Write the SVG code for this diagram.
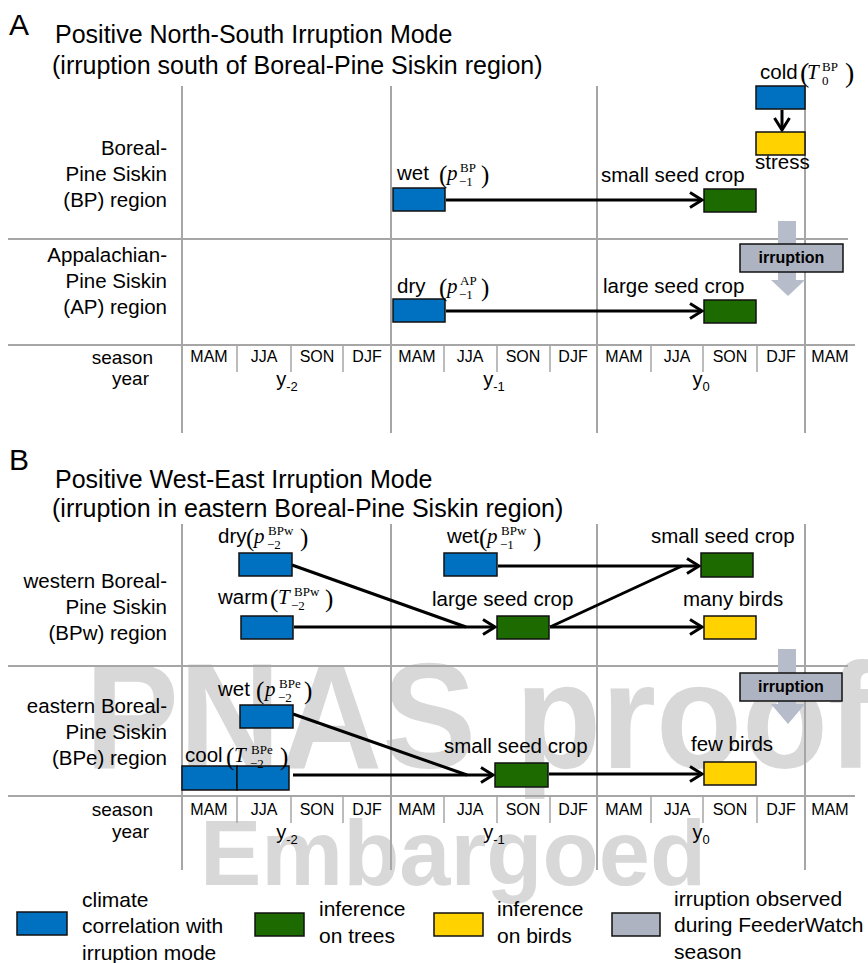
<svg xmlns="http://www.w3.org/2000/svg" width="868" height="963" viewBox="0 0 868 963">
  <style>
    .grid { stroke: #a6a6a6; stroke-width: 2; fill: none; }
    .tick { stroke: #a6a6a6; stroke-width: 1.5; fill: none; }
    .box { stroke: #111; stroke-width: 1.5; }
    .blue { fill: #0070c0; }
    .green { fill: #1d6b00; }
    .yellow { fill: #ffd200; }
    .obs { fill: #aeb3c2; }
    .flow { fill: #b7bccb; }
    .ln { stroke: #000; stroke-width: 3; fill: none; }
    .t { font-family: "Liberation Sans", Arial, sans-serif; font-size: 20.5px; fill: #000; }
    .title { font-size: 25px; }
    .panel { font-size: 30px; }
    .sea { font-size: 16px; text-anchor: middle; }
    .axis { font-size: 19px; text-anchor: end; }
    .yr { font-size: 20px; text-anchor: middle; }
    .reg { text-anchor: end; }
    .leg { font-size: 21px; }
    .bold { font-weight: bold; font-size: 16px; text-anchor: middle; }
    .m { font-family: "Liberation Serif", "Times New Roman", serif; fill: #000; }
    .mi { font-style: italic; font-size: 21px; }
    .ms { font-size: 13px; }
    .mp { font-size: 25px; }
    .mp2 { font-size: 28px; }
    .wm { font-family: "Liberation Sans", Arial, sans-serif; font-weight: bold; fill: #d8d8d8; }
  </style>
  <defs>
    <marker id="chev" markerUnits="userSpaceOnUse" markerWidth="20" markerHeight="20" viewBox="0 0 20 20" refX="17" refY="10" orient="auto">
      <path d="M5,2.5 L17,10 L5,17.5" fill="none" stroke="#000" stroke-width="3"/>
    </marker>
  </defs>

  <rect width="868" height="963" fill="#fff"/>

  <!-- watermark -->
  <g id="watermark">
    <text class="wm" x="85" y="768" font-size="150" textLength="790" lengthAdjust="spacingAndGlyphs">PNAS proof</text>
    <text class="wm" x="200" y="885" font-size="92">Embargoed</text>
  </g>

  <!-- ===== Panel A ===== -->
  <g id="panelA-header">
    <text class="t panel" x="9" y="35">A</text>
    <text class="t title" x="55" y="43">Positive North-South Irruption Mode</text>
    <text class="t title" x="52" y="74">(irruption south of Boreal-Pine Siskin region)</text>
  </g>

  <g id="panelA-grid">
    <line class="grid" x1="182" y1="86" x2="182" y2="433"/>
    <line class="grid" x1="391" y1="86" x2="391" y2="433"/>
    <line class="grid" x1="597" y1="86" x2="597" y2="433"/>
    <line class="grid" x1="805" y1="86" x2="805" y2="433"/>
    <line class="grid" x1="8" y1="239" x2="848" y2="239"/>
    <line class="grid" x1="8" y1="345" x2="855" y2="345"/>
    <line class="tick" x1="237" y1="345" x2="237" y2="372"/>
    <line class="tick" x1="291" y1="345" x2="291" y2="372"/>
    <line class="tick" x1="343" y1="345" x2="343" y2="372"/>
    <line class="tick" x1="444" y1="345" x2="444" y2="372"/>
    <line class="tick" x1="497" y1="345" x2="497" y2="372"/>
    <line class="tick" x1="550" y1="345" x2="550" y2="372"/>
    <line class="tick" x1="651" y1="345" x2="651" y2="372"/>
    <line class="tick" x1="703" y1="345" x2="703" y2="372"/>
    <line class="tick" x1="757" y1="345" x2="757" y2="372"/>
  </g>

  <g id="panelA-regions">
    <text class="t reg" x="167" y="155">Boreal-</text>
    <text class="t reg" x="167" y="181">Pine Siskin</text>
    <text class="t reg" x="167" y="207">(BP) region</text>
    <text class="t reg" x="167" y="262">Appalachian-</text>
    <text class="t reg" x="167" y="288">Pine Siskin</text>
    <text class="t reg" x="167" y="314">(AP) region</text>
  </g>

  <g id="panelA-axis">
    <text class="t axis" x="153" y="364">season</text>
    <text class="t axis" x="149" y="385">year</text>
    <text class="t sea" x="209" y="362">MAM</text>
    <text class="t sea" x="264" y="362">JJA</text>
    <text class="t sea" x="317" y="362">SON</text>
    <text class="t sea" x="367" y="362">DJF</text>
    <text class="t sea" x="417" y="362">MAM</text>
    <text class="t sea" x="470" y="362">JJA</text>
    <text class="t sea" x="523" y="362">SON</text>
    <text class="t sea" x="573" y="362">DJF</text>
    <text class="t sea" x="624" y="362">MAM</text>
    <text class="t sea" x="677" y="362">JJA</text>
    <text class="t sea" x="730" y="362">SON</text>
    <text class="t sea" x="781" y="362">DJF</text>
    <text class="t sea" x="830" y="362">MAM</text>
    <text class="t yr" x="287" y="386">y<tspan font-size="13" dy="5">-2</tspan></text>
    <text class="t yr" x="494" y="386">y<tspan font-size="13" dy="5">-1</tspan></text>
    <text class="t yr" x="701" y="386">y<tspan font-size="13" dy="5">0</tspan></text>
  </g>

  <!-- irruption flow arrow (behind the label box) -->
  <g id="A-irruption">
    <path class="flow" d="M778,221 H796 V280 H805 L788,296 L771,280 H778 Z"/>
    <rect class="box obs" x="740" y="244" width="103" height="28"/>
    <text class="t bold" x="791.5" y="263">irruption</text>
  </g>

  <g id="A-connectors">
    <line class="ln" x1="446" y1="200" x2="702" y2="200" marker-end="url(#chev)"/>
    <line class="ln" x1="446" y1="311" x2="702" y2="311" marker-end="url(#chev)"/>
    <line class="ln" x1="782" y1="110" x2="782" y2="130" marker-end="url(#chev)"/>
  </g>

  <g id="A-wet">
    <rect class="box blue" x="393" y="188" width="52" height="23"/>
    <text class="t" x="397" y="180">wet</text>
    <text class="m mp" x="439" y="183">(</text>
    <text class="m mi" x="447" y="180">p</text>
    <text class="m ms" x="460" y="172">BP</text>
    <text class="m ms" x="459" y="186">−1</text>
    <text class="m mp" x="481" y="183">)</text>
  </g>

  <g id="A-dry">
    <rect class="box blue" x="393" y="299" width="52" height="23"/>
    <text class="t" x="397" y="293">dry</text>
    <text class="m mp" x="439" y="296">(</text>
    <text class="m mi" x="447" y="293">p</text>
    <text class="m ms" x="460" y="285">AP</text>
    <text class="m ms" x="459" y="299">−1</text>
    <text class="m mp" x="481" y="296">)</text>
  </g>

  <g id="A-small-seed">
    <rect class="box green" x="704" y="189" width="52" height="23"/>
    <text class="t" x="601" y="182">small seed crop</text>
  </g>

  <g id="A-large-seed">
    <rect class="box green" x="704" y="300" width="52" height="23"/>
    <text class="t" x="603" y="293">large seed crop</text>
  </g>

  <g id="A-cold">
    <rect class="box blue" x="756" y="86" width="49" height="23"/>
    <text class="t" x="760" y="79">cold</text>
    <text class="m mp2" x="800" y="82">(</text>
    <text class="m mi" x="807" y="79">T</text>
    <text class="m ms" x="822" y="71">BP</text>
    <text class="m ms" x="822" y="85">0</text>
    <text class="m mp2" x="845" y="82">)</text>
  </g>

  <g id="A-stress">
    <rect class="box yellow" x="756" y="132" width="49" height="23"/>
    <text class="t" x="755" y="169">stress</text>
  </g>

  <!-- ===== Panel B ===== -->
  <g id="panelB-header">
    <text class="t panel" x="9" y="470">B</text>
    <text class="t title" x="55" y="488">Positive West-East Irruption Mode</text>
    <text class="t title" x="52" y="517">(irruption in eastern Boreal-Pine Siskin region)</text>
  </g>

  <g id="panelB-grid">
    <line class="grid" x1="182" y1="524" x2="182" y2="870"/>
    <line class="grid" x1="391" y1="524" x2="391" y2="870"/>
    <line class="grid" x1="597" y1="524" x2="597" y2="870"/>
    <line class="grid" x1="805" y1="524" x2="805" y2="870"/>
    <line class="grid" x1="8" y1="666" x2="848" y2="666"/>
    <line class="grid" x1="8" y1="796" x2="855" y2="796"/>
    <line class="tick" x1="237" y1="796" x2="237" y2="823"/>
    <line class="tick" x1="291" y1="796" x2="291" y2="823"/>
    <line class="tick" x1="343" y1="796" x2="343" y2="823"/>
    <line class="tick" x1="444" y1="796" x2="444" y2="823"/>
    <line class="tick" x1="497" y1="796" x2="497" y2="823"/>
    <line class="tick" x1="550" y1="796" x2="550" y2="823"/>
    <line class="tick" x1="651" y1="796" x2="651" y2="823"/>
    <line class="tick" x1="703" y1="796" x2="703" y2="823"/>
    <line class="tick" x1="757" y1="796" x2="757" y2="823"/>
  </g>

  <g id="panelB-regions">
    <text class="t reg" x="167" y="588">western Boreal-</text>
    <text class="t reg" x="167" y="614">Pine Siskin</text>
    <text class="t reg" x="167" y="640">(BPw) region</text>
    <text class="t reg" x="167" y="713">eastern Boreal-</text>
    <text class="t reg" x="167" y="739">Pine Siskin</text>
    <text class="t reg" x="167" y="765">(BPe) region</text>
  </g>

  <g id="panelB-axis">
    <text class="t axis" x="153" y="816">season</text>
    <text class="t axis" x="149" y="838">year</text>
    <text class="t sea" x="209" y="815">MAM</text>
    <text class="t sea" x="264" y="815">JJA</text>
    <text class="t sea" x="317" y="815">SON</text>
    <text class="t sea" x="367" y="815">DJF</text>
    <text class="t sea" x="417" y="815">MAM</text>
    <text class="t sea" x="470" y="815">JJA</text>
    <text class="t sea" x="523" y="815">SON</text>
    <text class="t sea" x="573" y="815">DJF</text>
    <text class="t sea" x="624" y="815">MAM</text>
    <text class="t sea" x="677" y="815">JJA</text>
    <text class="t sea" x="730" y="815">SON</text>
    <text class="t sea" x="781" y="815">DJF</text>
    <text class="t sea" x="830" y="815">MAM</text>
    <text class="t yr" x="287" y="839">y<tspan font-size="13" dy="5">-2</tspan></text>
    <text class="t yr" x="494" y="839">y<tspan font-size="13" dy="5">-1</tspan></text>
    <text class="t yr" x="701" y="839">y<tspan font-size="13" dy="5">0</tspan></text>
  </g>

  <g id="B-irruption">
    <path class="flow" d="M778,649 H796 V704 H805 L788,724 L771,704 H778 Z"/>
    <rect class="box obs" x="740" y="673" width="102" height="28"/>
    <text class="t bold" x="791" y="692">irruption</text>
  </g>

  <g id="B-connectors">
    <line class="ln" x1="292" y1="565" x2="466" y2="627"/>
    <line class="ln" x1="294" y1="627" x2="495" y2="627" marker-end="url(#chev)"/>
    <line class="ln" x1="498" y1="566" x2="699" y2="566" marker-end="url(#chev)"/>
    <line class="ln" x1="550" y1="627" x2="682" y2="566"/>
    <line class="ln" x1="550" y1="627" x2="702" y2="627" marker-end="url(#chev)"/>
    <line class="ln" x1="293" y1="714" x2="467" y2="775"/>
    <line class="ln" x1="293" y1="775" x2="493" y2="775" marker-end="url(#chev)"/>
    <line class="ln" x1="549" y1="774" x2="702" y2="774" marker-end="url(#chev)"/>
  </g>

  <g id="B-dry">
    <rect class="box blue" x="239" y="553" width="53" height="23"/>
    <text class="t" x="218" y="543">dry</text>
    <text class="m mp" x="246" y="546">(</text>
    <text class="m mi" x="254" y="543">p</text>
    <text class="m ms" x="268" y="535">BPw</text>
    <text class="m ms" x="267" y="549">−2</text>
    <text class="m mp" x="300" y="546">)</text>
  </g>

  <g id="B-warm">
    <rect class="box blue" x="241" y="616" width="52" height="23"/>
    <text class="t" x="218" y="604">warm</text>
    <text class="m mp" x="270" y="607">(</text>
    <text class="m mi" x="278" y="604">T</text>
    <text class="m ms" x="294" y="596">BPw</text>
    <text class="m ms" x="291" y="610">−2</text>
    <text class="m mp" x="325" y="607">)</text>
  </g>

  <g id="B-wet-west">
    <rect class="box blue" x="444" y="553" width="53" height="23"/>
    <text class="t" x="447" y="543">wet</text>
    <text class="m mp" x="479" y="546">(</text>
    <text class="m mi" x="487" y="543">p</text>
    <text class="m ms" x="501" y="535">BPw</text>
    <text class="m ms" x="500" y="549">−1</text>
    <text class="m mp" x="533" y="546">)</text>
  </g>

  <g id="B-large-seed">
    <rect class="box green" x="497" y="616" width="52" height="23"/>
    <text class="t" x="432" y="606">large seed crop</text>
  </g>

  <g id="B-small-seed-west">
    <rect class="box green" x="701" y="553" width="52" height="24"/>
    <text class="t" x="651" y="543">small seed crop</text>
  </g>

  <g id="B-many-birds">
    <rect class="box yellow" x="704" y="616" width="52" height="23"/>
    <text class="t" x="683" y="606">many birds</text>
  </g>

  <g id="B-wet-east">
    <rect class="box blue" x="240" y="705" width="53" height="23"/>
    <text class="t" x="218" y="696">wet</text>
    <text class="m mp" x="256" y="699">(</text>
    <text class="m mi" x="265" y="696">p</text>
    <text class="m ms" x="279" y="688">BPe</text>
    <text class="m ms" x="278" y="702">−2</text>
    <text class="m mp" x="304" y="699">)</text>
  </g>

  <g id="B-cool">
    <rect class="box blue" x="182" y="766" width="55" height="24"/>
    <rect class="box blue" x="237" y="766" width="52" height="24"/>
    <text class="t" x="185" y="762">cool</text>
    <text class="m mp" x="226" y="765">(</text>
    <text class="m mi" x="234" y="762">T</text>
    <text class="m ms" x="251" y="754">BPe</text>
    <text class="m ms" x="250" y="768">−2</text>
    <text class="m mp" x="280" y="765">)</text>
  </g>

  <g id="B-small-seed-east">
    <rect class="box green" x="495" y="763" width="53" height="24"/>
    <text class="t" x="444" y="753">small seed crop</text>
  </g>

  <g id="B-few-birds">
    <rect class="box yellow" x="704" y="762" width="52" height="23"/>
    <text class="t" x="691" y="751">few birds</text>
  </g>

  <!-- legend -->
  <g id="legend-climate">
    <rect class="box blue" x="17" y="912" width="50" height="23"/>
    <text class="t leg" x="82" y="907">climate</text>
    <text class="t leg" x="82" y="933">correlation with</text>
    <text class="t leg" x="82" y="960">irruption mode</text>
  </g>
  <g id="legend-trees">
    <rect class="box green" x="255" y="913" width="49" height="23"/>
    <text class="t leg" x="319" y="916">inference</text>
    <text class="t leg" x="319" y="943">on trees</text>
  </g>
  <g id="legend-birds">
    <rect class="box yellow" x="434" y="913" width="49" height="23"/>
    <text class="t leg" x="497" y="916">inference</text>
    <text class="t leg" x="497" y="943">on birds</text>
  </g>
  <g id="legend-observed">
    <rect class="box obs" x="612" y="913" width="48" height="23"/>
    <text class="t leg" x="674" y="906">irruption observed</text>
    <text class="t leg" x="674" y="932">during FeederWatch</text>
    <text class="t leg" x="674" y="959">season</text>
  </g>
</svg>
